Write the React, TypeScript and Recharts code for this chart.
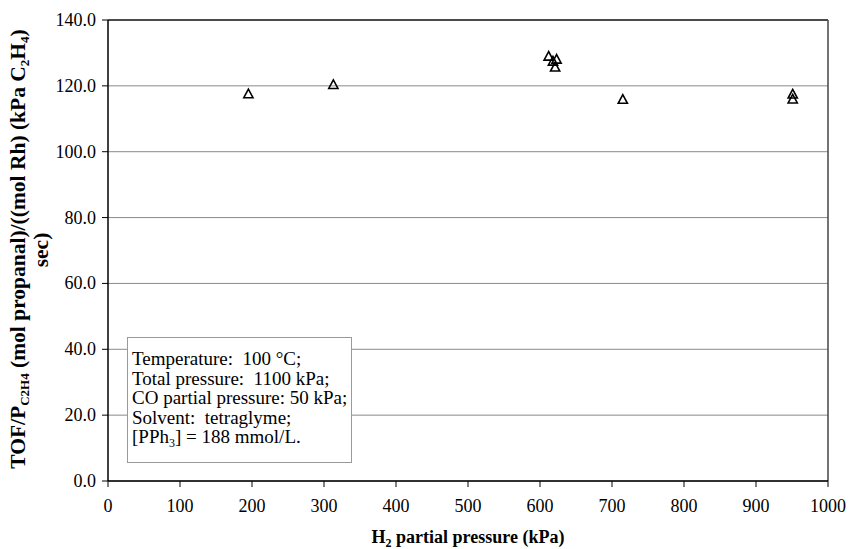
import React from 'react';
import { ScatterChart, Scatter, XAxis, YAxis, CartesianGrid, ReferenceLine } from 'recharts';

const h2Pressure = [195, 313, 612, 618, 623, 621, 715, 951, 951];
const tofValues = [117.5, 120.3, 128.9, 127.4, 128.0, 125.6, 115.8, 117.4, 115.9];

const xTicks = [0, 100, 200, 300, 400, 500, 600, 700, 800, 900, 1000];
const yTicks = [0, 20, 40, 60, 80, 100, 120, 140];
const xMinorTicks = [0, 20, 40, 60, 80, 100, 120, 140, 160, 180, 200, 220, 240, 260, 280, 300, 320, 340, 360, 380, 400, 420, 440, 460, 480, 500, 520, 540, 560, 580, 600, 620, 640, 660, 680, 700, 720, 740, 760, 780, 800, 820, 840, 860, 880, 900, 920, 940, 960, 980, 1000];
const yMinorTicks = [0, 4, 8, 12, 16, 20, 24, 28, 32, 36, 40, 44, 48, 52, 56, 60, 64, 68, 72, 76, 80, 84, 88, 92, 96, 100, 104, 108, 112, 116, 120, 124, 128, 132, 136, 140];

const noteLines = [
  'Temperature:  100 \u00B0C;',
  'Total pressure:  1100 kPa;',
  'CO partial pressure: 50 kPa;',
  'Solvent:  tetraglyme;',
];

const data = h2Pressure.map((x, i) => ({ x, y: tofValues[i] }));

const FONT = '"Liberation Serif", "DejaVu Serif", serif';

const Triangle = (props: any) => {
  const { cx, cy } = props;
  if (cx == null || cy == null) return null;
  const pts = `${cx},${cy - 5} ${cx - 4.6},${cy + 3.6} ${cx + 4.6},${cy + 3.6}`;
  return <polygon points={pts} fill="none" stroke="#000" strokeWidth={1.6} strokeLinejoin="miter" />;
};

const XTick = (props: any) => {
  const { x, y, payload } = props;
  return (
    <text x={x} y={y + 23} textAnchor="middle" fontFamily={FONT} fontSize={18} fill="#000">
      {String(payload.value)}
    </text>
  );
};

const YTick = (props: any) => {
  const { x, y, payload } = props;
  return (
    <text x={x - 4} y={y + 6} textAnchor="end" fontFamily={FONT} fontSize={18} fill="#000">
      {Number(payload.value).toFixed(1)}
    </text>
  );
};

export default function App() {
  return (
    <div style={{ position: 'absolute', left: 0, top: 0, width: 849, height: 549, background: '#fff', fontFamily: FONT }}>
      <ScatterChart width={849} height={549} margin={{ top: 20, right: 21, bottom: 38, left: 48 }}>
        <CartesianGrid horizontal={true} vertical={false} stroke="#8a8a8a" strokeWidth={1} />
        <XAxis
          dataKey="x"
          type="number"
          domain={[0, 1000]}
          ticks={xTicks}
          interval={0}
          height={30}
          tickSize={6}
          axisLine={{ stroke: '#000', strokeWidth: 1.5 }}
          tickLine={{ stroke: '#000' }}
          tick={<XTick />}
          allowDataOverflow
        />
        <XAxis
          xAxisId="minor"
          type="number"
          domain={[0, 1000]}
          ticks={xMinorTicks}
          interval={0}
          mirror
          tickSize={5}
          axisLine={false}
          tickLine={{ stroke: '#000' }}
          tick={false}
          allowDataOverflow
        />
        <YAxis
          dataKey="y"
          type="number"
          domain={[0, 140]}
          ticks={yTicks}
          interval={0}
          width={60}
          tickSize={6}
          axisLine={{ stroke: '#000', strokeWidth: 1.5 }}
          tickLine={{ stroke: '#000' }}
          tick={<YTick />}
          allowDataOverflow
        />
        <YAxis
          yAxisId="minor"
          type="number"
          domain={[0, 140]}
          ticks={yMinorTicks}
          interval={0}
          mirror
          tickSize={5}
          axisLine={false}
          tickLine={{ stroke: '#000' }}
          tick={false}
          allowDataOverflow
        />
        <ReferenceLine y={140} stroke="#222" strokeWidth={1.5} />
        <ReferenceLine x={1000} stroke="#444" strokeWidth={1.5} />
        <Scatter data={data} shape={<Triangle />} isAnimationActive={false} />
        <text
          transform="translate(25,249) rotate(-90)"
          textAnchor="middle"
          fontFamily={FONT}
          fontSize={21.5}
          fontWeight="bold"
          fill="#000"
        >
          <tspan>TOF/P</tspan>
          <tspan fontSize={13} dy={4}>C2H4</tspan>
          <tspan dy={-4}> (mol propanal)/((mol Rh) (kPa C</tspan>
          <tspan fontSize={13} dy={4}>2</tspan>
          <tspan dy={-4}>H</tspan>
          <tspan fontSize={13} dy={4}>4</tspan>
          <tspan dy={-4}>)</tspan>
        </text>
        <text
          transform="translate(48,250) rotate(-90)"
          textAnchor="middle"
          fontFamily={FONT}
          fontSize={21.5}
          fontWeight="bold"
          fill="#000"
        >
          sec)
        </text>
        <text
          x={468}
          y={543}
          textAnchor="middle"
          fontFamily={FONT}
          fontSize={18}
          fontWeight="bold"
          fill="#000"
        >
          <tspan>H</tspan>
          <tspan fontSize={12} dy={4}>2</tspan>
          <tspan dy={-4}> partial pressure (kPa)</tspan>
        </text>
      </ScatterChart>
      <div
        style={{
          position: 'absolute',
          left: 127,
          top: 337,
          width: 225,
          height: 126,
          boxSizing: 'border-box',
          border: '1px solid #9a9a9a',
          background: '#fff',
          fontFamily: FONT,
          fontSize: 19,
          lineHeight: '19.6px',
          color: '#000',
          padding: '11px 0 0 4px',
          whiteSpace: 'pre',
        }}
      >
        {noteLines.map((l) => (
          <div key={l}>{l}</div>
        ))}
        <div>
          [PPh<sub style={{ fontSize: 12, verticalAlign: 'baseline', position: 'relative', top: 4 }}>3</sub>] = 188 mmol/L.
        </div>
      </div>
    </div>
  );
}
